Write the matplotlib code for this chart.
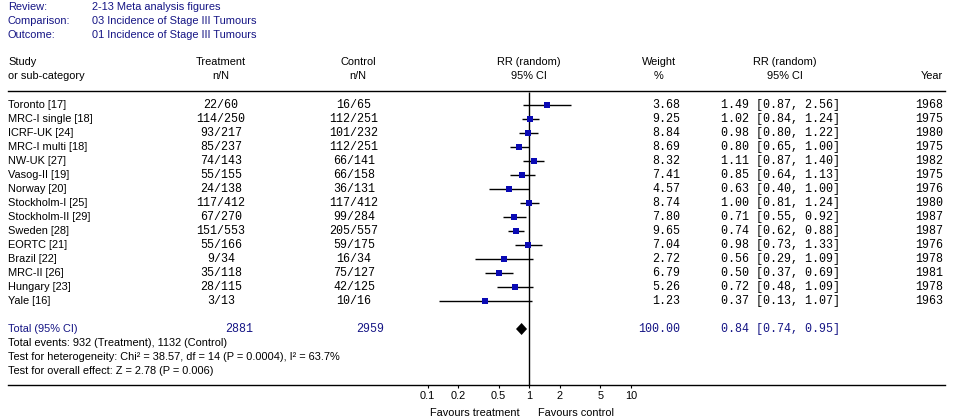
import numpy as np
import matplotlib
matplotlib.use("Agg")
import matplotlib.pyplot as plt

# ---------------- data ----------------
studies = ["Toronto [17]", "MRC-I single [18]", "ICRF-UK [24]", "MRC-I multi [18]",
           "NW-UK [27]", "Vasog-II [19]", "Norway [20]", "Stockholm-I [25]",
           "Stockholm-II [29]", "Sweden [28]", "EORTC [21]", "Brazil [22]",
           "MRC-II [26]", "Hungary [23]", "Yale [16]"]
treat = ["22/60", "114/250", "93/217", "85/237", "74/143", "55/155", "24/138", "117/412",
         "67/270", "151/553", "55/166", "9/34", "35/118", "28/115", "3/13"]
control = ["16/65", "112/251", "101/232", "112/251", "66/141", "66/158", "36/131", "117/412",
           "99/284", "205/557", "59/175", "16/34", "75/127", "42/125", "10/16"]
weights = [3.68, 9.25, 8.84, 8.69, 8.32, 7.41, 4.57, 8.74, 7.80, 9.65, 7.04, 2.72, 6.79, 5.26, 1.23]
rr = [1.49, 1.02, 0.98, 0.80, 1.11, 0.85, 0.63, 1.00, 0.71, 0.74, 0.98, 0.56, 0.50, 0.72, 0.37]
lo = [0.87, 0.84, 0.80, 0.65, 0.87, 0.64, 0.40, 0.81, 0.55, 0.62, 0.73, 0.29, 0.37, 0.48, 0.13]
hi = [2.56, 1.24, 1.22, 1.00, 1.40, 1.13, 1.00, 1.24, 0.92, 0.88, 1.33, 1.09, 0.69, 1.09, 1.07]
years = [1968, 1975, 1980, 1975, 1982, 1975, 1976, 1980, 1987, 1987, 1976, 1978, 1981, 1978, 1963]
total_treat = 2881
total_control = 2959
total_weight = 100.00
total_rr, total_lo, total_hi = 0.84, 0.74, 0.95
tick_vals = [0.1, 0.2, 0.5, 1, 2, 5, 10]
tick_labels = ["0.1", "0.2", "0.5", "1", "2", "5", "10"]
header_info = [("Review:", "2-13 Meta analysis figures"),
               ("Comparison:", "03 Incidence of Stage III Tumours"),
               ("Outcome:", "01 Incidence of Stage III Tumours")]
footer = ["Total events: 932 (Treatment), 1132 (Control)",
          "Test for heterogeneity: Chi\u00b2 = 38.57, df = 14 (P = 0.0004), I\u00b2 = 63.7%",
          "Test for overall effect: Z = 2.78 (P = 0.006)"]

# ---------------- layout ----------------
W, H = 954, 420
NAVY = "#151585"
BLUE = "#0a0ab4"
SANS = "Liberation Sans"
MONO = "Liberation Mono"
fs_s = 7.9
fs_m = 8.4

fig = plt.figure(figsize=(W / 100, H / 100), dpi=100)
fig.patch.set_facecolor("white")
ax0 = fig.add_axes([0, 0, 1, 1])
ax0.set_xlim(0, W)
ax0.set_ylim(H, 0)
ax0.axis("off")

# log axis mapping: px = x1 + dec*log10(v)
x1, dec = 529.3, 101.7
ax1 = fig.add_axes([0, 0, 1, 1], facecolor="none")
ax1.set_xscale("log")
ax1.set_xlim(10 ** ((0 - x1) / dec), 10 ** ((W - x1) / dec))
ax1.set_ylim(H, 0)
for s in ["top", "left", "right"]:
    ax1.spines[s].set_visible(False)
ax1.spines["bottom"].set_position(("data", 385))
ax1.spines["bottom"].set_bounds(10 ** ((8 - x1) / dec), 10 ** ((945 - x1) / dec))
ax1.spines["bottom"].set_linewidth(1.0)
ax1.set_yticks([])
ax1.set_xticks(tick_vals)
ax1.set_xticklabels(tick_labels, fontsize=fs_s, family=SANS)
ax1.xaxis.set_minor_locator(matplotlib.ticker.NullLocator())
ax1.tick_params(axis="x", direction="out", length=2.5, width=0.8, pad=1.5)

# header
for i, (a, b) in enumerate(header_info):
    y = 7 + 14 * i
    ax0.text(8, y, a, color=NAVY, fontsize=fs_s, family=SANS, va="center", ha="left")
    ax0.text(92, y, b, color=NAVY, fontsize=fs_s, family=SANS, va="center", ha="left")

hy1, hy2 = 62, 76
ax0.text(8, hy1, "Study", fontsize=fs_s, family=SANS, va="center")
ax0.text(8, hy2, "or sub-category", fontsize=fs_s, family=SANS, va="center")
ax0.text(221, hy1, "Treatment", fontsize=fs_s, family=SANS, va="center", ha="center")
ax0.text(221, hy2, "n/N", fontsize=fs_s, family=SANS, va="center", ha="center")
ax0.text(358, hy1, "Control", fontsize=fs_s, family=SANS, va="center", ha="center")
ax0.text(358, hy2, "n/N", fontsize=fs_s, family=SANS, va="center", ha="center")
ax0.text(529, hy1, "RR (random)", fontsize=fs_s, family=SANS, va="center", ha="center")
ax0.text(529, hy2, "95% CI", fontsize=fs_s, family=SANS, va="center", ha="center")
ax0.text(659, hy1, "Weight", fontsize=fs_s, family=SANS, va="center", ha="center")
ax0.text(659, hy2, "%", fontsize=fs_s, family=SANS, va="center", ha="center")
ax0.text(785, hy1, "RR (random)", fontsize=fs_s, family=SANS, va="center", ha="center")
ax0.text(785, hy2, "95% CI", fontsize=fs_s, family=SANS, va="center", ha="center")
ax0.text(943, hy2, "Year", fontsize=fs_s, family=SANS, va="center", ha="right")
ax0.plot([8, 945], [91, 91], color="black", lw=1.0)

# rows
ys = 105 + 14 * np.arange(len(studies))
for i, y in enumerate(ys):
    ax0.text(8, y, studies[i], fontsize=fs_s, family=SANS, va="center")
    ax0.text(221, y, treat[i], fontsize=fs_m, family=MONO, va="center", ha="center")
    ax0.text(354, y, control[i], fontsize=fs_m, family=MONO, va="center", ha="center")
    ax0.text(680, y, f"{weights[i]:.2f}", fontsize=fs_m, family=MONO, va="center", ha="right")
    ax0.text(721, y, f"{rr[i]:.2f} [{lo[i]:.2f}, {hi[i]:.2f}]", fontsize=fs_m, family=MONO,
             va="center", ha="left")
    ax0.text(943, y, str(years[i]), fontsize=fs_m, family=MONO, va="center", ha="right")

ax1.vlines(1, 92, 385, color="black", lw=1.0)
ax1.hlines(ys, lo, hi, color="black", lw=1.0, zorder=3)
ax1.scatter(rr, ys, marker="s", s=22, color=BLUE, zorder=4, linewidths=0)

# total
ty = 329
ax0.text(8, ty, "Total (95% CI)", color=NAVY, fontsize=fs_s, family=SANS, va="center")
ax0.text(239, ty, str(total_treat), color=NAVY, fontsize=fs_m, family=MONO, va="center", ha="center")
ax0.text(370, ty, str(total_control), color=NAVY, fontsize=fs_m, family=MONO, va="center", ha="center")
ax0.text(680, ty, f"{total_weight:.2f}", color=NAVY, fontsize=fs_m, family=MONO, va="center", ha="right")
ax0.text(721, ty, f"{total_rr:.2f} [{total_lo:.2f}, {total_hi:.2f}]", color=NAVY, fontsize=fs_m,
         family=MONO, va="center", ha="left")
ax1.fill([total_lo, total_rr, total_hi, total_rr], [ty, ty - 6, ty, ty + 6], color="black",
         zorder=4, lw=0)

for i, t in enumerate(footer):
    ax0.text(8, 343 + 14 * i, t, fontsize=fs_s, family=SANS, va="center")

ax0.text(520, 413, "Favours treatment", fontsize=fs_s, family=SANS, va="center", ha="right")
ax0.text(538, 413, "Favours control", fontsize=fs_s, family=SANS, va="center", ha="left")

fig.savefig("out.png", dpi=100, facecolor="white")
